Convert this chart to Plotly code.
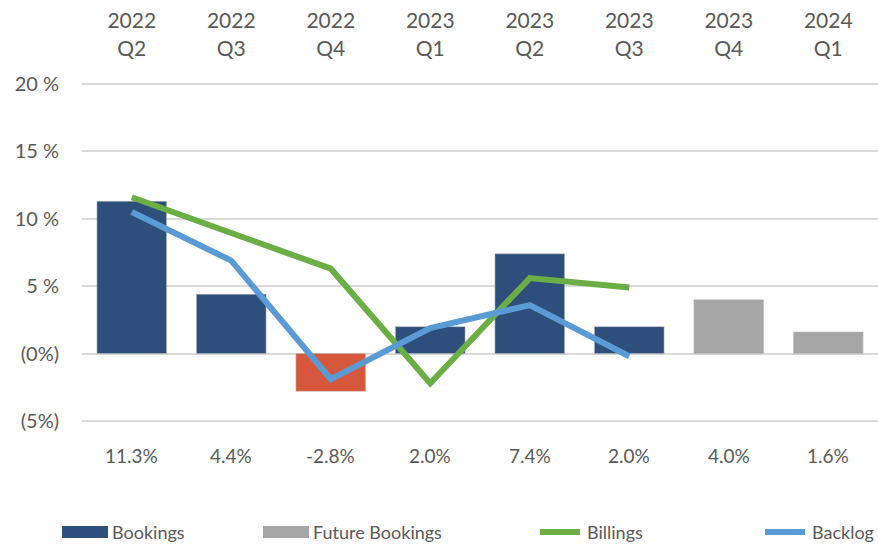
import plotly.graph_objects as go

quarters = ["2022<br>Q2", "2022<br>Q3", "2022<br>Q4", "2023<br>Q1",
            "2023<br>Q2", "2023<br>Q3", "2023<br>Q4", "2024<br>Q1"]
bookings = [11.3, 4.4, -2.8, 2.0, 7.4, 2.0, None, None]
future_bookings = [None, None, None, None, None, None, 4.0, 1.6]
billings = [11.6, 9.0, 6.3, -2.2, 5.6, 4.9, None, None]
backlog = [10.5, 6.9, -1.9, 1.9, 3.6, -0.2, None, None]
value_labels = ["11.3%", "4.4%", "-2.8%", "2.0%", "7.4%", "2.0%", "4.0%", "1.6%"]
y_ticks = [20, 15, 10, 5, 0, -5]
y_tick_text = ["20 %", "15 %", "10 %", "5 %", "(0%)", "(5%)"]

NAVY = "#2E4E7B"
RED = "#D6583C"
GRAY = "#A6A6A6"
GREEN = "#6CAE46"
BLUE = "#5B9BD5"
TXT = "#595959"
FONT = "Lato"

book_colors = [RED if (v is not None and v < 0) else NAVY for v in bookings]

fig = go.Figure()
fig.add_trace(go.Bar(x=quarters, y=bookings, name="Bookings", width=0.7,
                     marker=dict(color=book_colors, line=dict(color="#BFBFBF", width=0.5))))
fig.add_trace(go.Bar(x=quarters, y=future_bookings, name="Future Bookings", width=0.7,
                     marker=dict(color=GRAY, line=dict(color="#BFBFBF", width=0.5))))
fig.add_trace(go.Scatter(x=quarters, y=billings, name="Billings", mode="lines",
                         line=dict(color=GREEN, width=6)))
fig.add_trace(go.Scatter(x=quarters, y=backlog, name="Backlog", mode="lines",
                         line=dict(color=BLUE, width=6)))

W, H = 878, 549
ml, mr, mt, mb = 82, 0, 82, 126
pw, ph = W - ml - mr, H - mt - mb
y_lo, y_hi = -5.15, 20.15


def px(x):
    return (x - ml) / pw


def py(y):
    return (H - mb - y) / ph


# value labels under the plot
for q, lab in zip(quarters, value_labels):
    fig.add_annotation(x=q, xref="x", y=py(455), yref="paper", text=lab,
                       showarrow=False, yanchor="middle",
                       font=dict(family=FONT, size=19, color=TXT))

# custom legend
legend_items = [("Bookings", NAVY, "bar", 62), ("Future Bookings", GRAY, "bar", 263),
                ("Billings", GREEN, "line", 537), ("Backlog", BLUE, "line", 762)]
ly = 532
for name, col, kind, x0 in legend_items:
    if kind == "bar":
        fig.add_shape(type="rect", xref="paper", yref="paper",
                      x0=px(x0), x1=px(x0 + 46), y0=py(ly + 6), y1=py(ly - 6),
                      fillcolor=col, line=dict(width=0))
    else:
        fig.add_shape(type="line", xref="paper", yref="paper",
                      x0=px(x0 + 3), x1=px(x0 + 43), y0=py(ly), y1=py(ly),
                      line=dict(color=col, width=6))
    fig.add_annotation(x=px(x0 + 48), y=py(ly), xref="paper", yref="paper",
                       text=name, showarrow=False, xanchor="left", yanchor="middle",
                       font=dict(family=FONT, size=18, color=TXT))

fig.update_layout(
    width=W, height=H, margin=dict(l=ml, r=mr, t=mt, b=mb),
    paper_bgcolor="white", plot_bgcolor="white",
    barmode="overlay", showlegend=False,
    font=dict(family=FONT, size=20, color=TXT),
    xaxis=dict(type="category", side="top", range=[-0.5, 7.5], showgrid=False,
               showline=False, ticks="", tickfont=dict(family=FONT, size=21, color=TXT),
               ticklabelstandoff=21),
    yaxis=dict(range=[y_lo, y_hi], tickvals=y_ticks, ticktext=y_tick_text,
               showgrid=True, gridcolor="#D9D9D9", gridwidth=1.5,
               zeroline=True, zerolinecolor="#D9D9D9", zerolinewidth=2,
               showline=False, ticks="", ticklabelstandoff=22,
               tickfont=dict(family=FONT, size=20, color=TXT)),
)

fig.write_html("out.html", config={"displayModeBar": False},
               post_script="document.body.style.margin='0';document.body.style.overflow='hidden';")
